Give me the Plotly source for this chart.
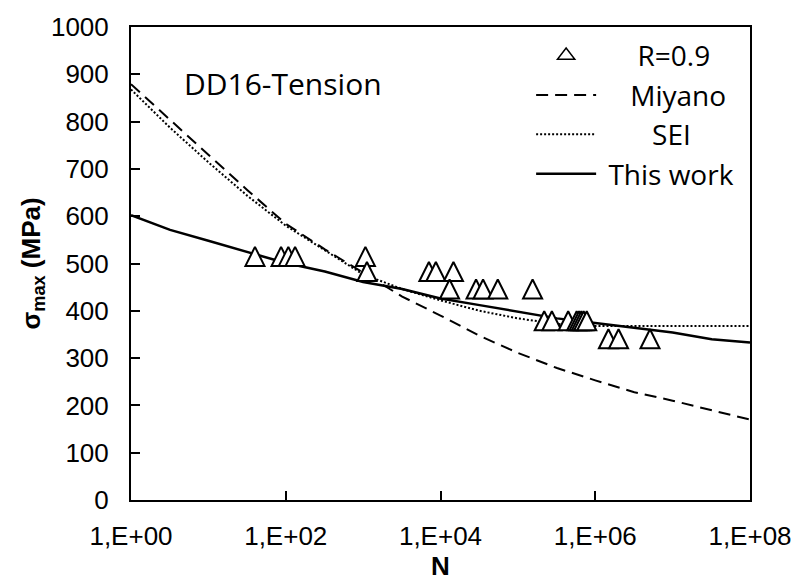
import plotly.graph_objects as go

# ---- data ----
n_curve = [1, 3.2, 10, 32, 100, 320, 1e3, 3.2e3, 1e4, 3.2e4, 1e5, 3.2e5, 1e6, 3.2e6, 1e7, 3.2e7, 1e8]
miyano = [879, 803, 730, 655, 584, 530, 480, 430, 390, 347, 311, 279, 253, 228, 210, 190, 170]
sei = [868, 787, 714, 643, 580, 528, 477, 446, 422, 400, 384, 372, 368, 368, 368, 368, 368]
this_work = [602, 571, 548, 524, 501, 483, 461, 446, 426, 412, 398, 384, 374, 364, 354, 340, 333]

n_r09 = [40, 87, 108, 132, 1070, 1120, 7080, 8710, 14700, 13100, 28800, 35500, 55000, 155000,
         219000, 275000, 447000, 575000, 617000, 661000, 708000, 776000, 1.48e6, 2.0e6, 5.1e6]
s_r09 = [515, 515, 515, 515, 515, 483, 483, 483, 483, 446, 446, 446, 446, 446,
         379, 379, 379, 379, 379, 379, 379, 379, 341, 341, 341]

x_tickvals = [1, 1e2, 1e4, 1e6, 1e8]
x_ticktext = ["1,E+00", "1,E+02", "1,E+04", "1,E+06", "1,E+08"]
y_tickvals = [0, 100, 200, 300, 400, 500, 600, 700, 800, 900, 1000]

NB = "\u00a0"

fig = go.Figure()
fig.add_trace(go.Scatter(x=n_curve, y=miyano, mode="lines", name=NB * 4 + "Miyano", legendrank=2,
                         line=dict(color="black", width=2, dash="12px,7px")))
fig.add_trace(go.Scatter(x=n_curve, y=sei, mode="lines", name=NB * 7 + "SEI", legendrank=3,
                         line=dict(color="black", width=2, dash="2px,2px")))
fig.add_trace(go.Scatter(x=n_curve, y=this_work, mode="lines", name=NB + "This work", legendrank=4,
                         line=dict(color="black", width=2.5)))
fig.add_trace(go.Scatter(
    x=n_r09, y=s_r09, mode="markers", name="R=0.9", showlegend=False,
    marker=dict(symbol="arrow-down", angle=180, size=19, standoff=9.5, color="white",
                line=dict(color="black", width=2)),
))
# legend entry for the R=0.9 markers (no data drawn)
fig.add_trace(go.Scatter(
    x=[None], y=[None], mode="markers", name=NB * 5 + "R=0.9", legendrank=1,
    marker=dict(symbol="triangle-up", size=15, color="white",
                line=dict(color="black", width=1.5)),
))

tick_font = dict(family="Liberation Sans, Arial, sans-serif", size=26, color="black")
fig.update_layout(
    width=804, height=583, autosize=False,
    margin=dict(l=131, r=47, t=24, b=81),
    paper_bgcolor="white", plot_bgcolor="white",
    showlegend=True,
    legend=dict(x=0.6464, y=0.992, xanchor="left", yanchor="top",
                font=dict(family="Open Sans, sans-serif", size=28, color="black"),
                bgcolor="rgba(0,0,0,0)", itemwidth=60),
    annotations=[dict(text="DD16-Tension", x=0.246, y=0.880, xref="paper", yref="paper",
                      showarrow=False, xanchor="center", yanchor="middle",
                      font=dict(family="Open Sans, sans-serif", size=30, color="black"))],
)
fig.update_xaxes(type="log", range=[0, 8], tickvals=x_tickvals, ticktext=x_ticktext,
                 ticks="inside", ticklen=9, tickwidth=2, tickcolor="black",
                 showline=True, linewidth=2, linecolor="black", mirror=True,
                 showgrid=False, zeroline=False, tickfont=tick_font, ticklabelstandoff=12,
                 title=dict(text="<b>N</b>", font=dict(family="Liberation Sans, Arial", size=26, color="black"),
                            standoff=2))
fig.update_yaxes(range=[0, 1000], tickvals=y_tickvals,
                 ticks="inside", ticklen=9, tickwidth=2, tickcolor="black",
                 showline=True, linewidth=2, linecolor="black", mirror=True,
                 showgrid=False, zeroline=False, tickfont=tick_font, ticklabelstandoff=15,
                 title=dict(text="<b>σ<sub>max</sub> (MPa)</b>",
                            font=dict(family="Liberation Sans, Arial", size=26, color="black"),
                            standoff=3))

fig.write_html("out.html", config={"displayModeBar": False},
               post_script="document.body.style.margin='0';")
